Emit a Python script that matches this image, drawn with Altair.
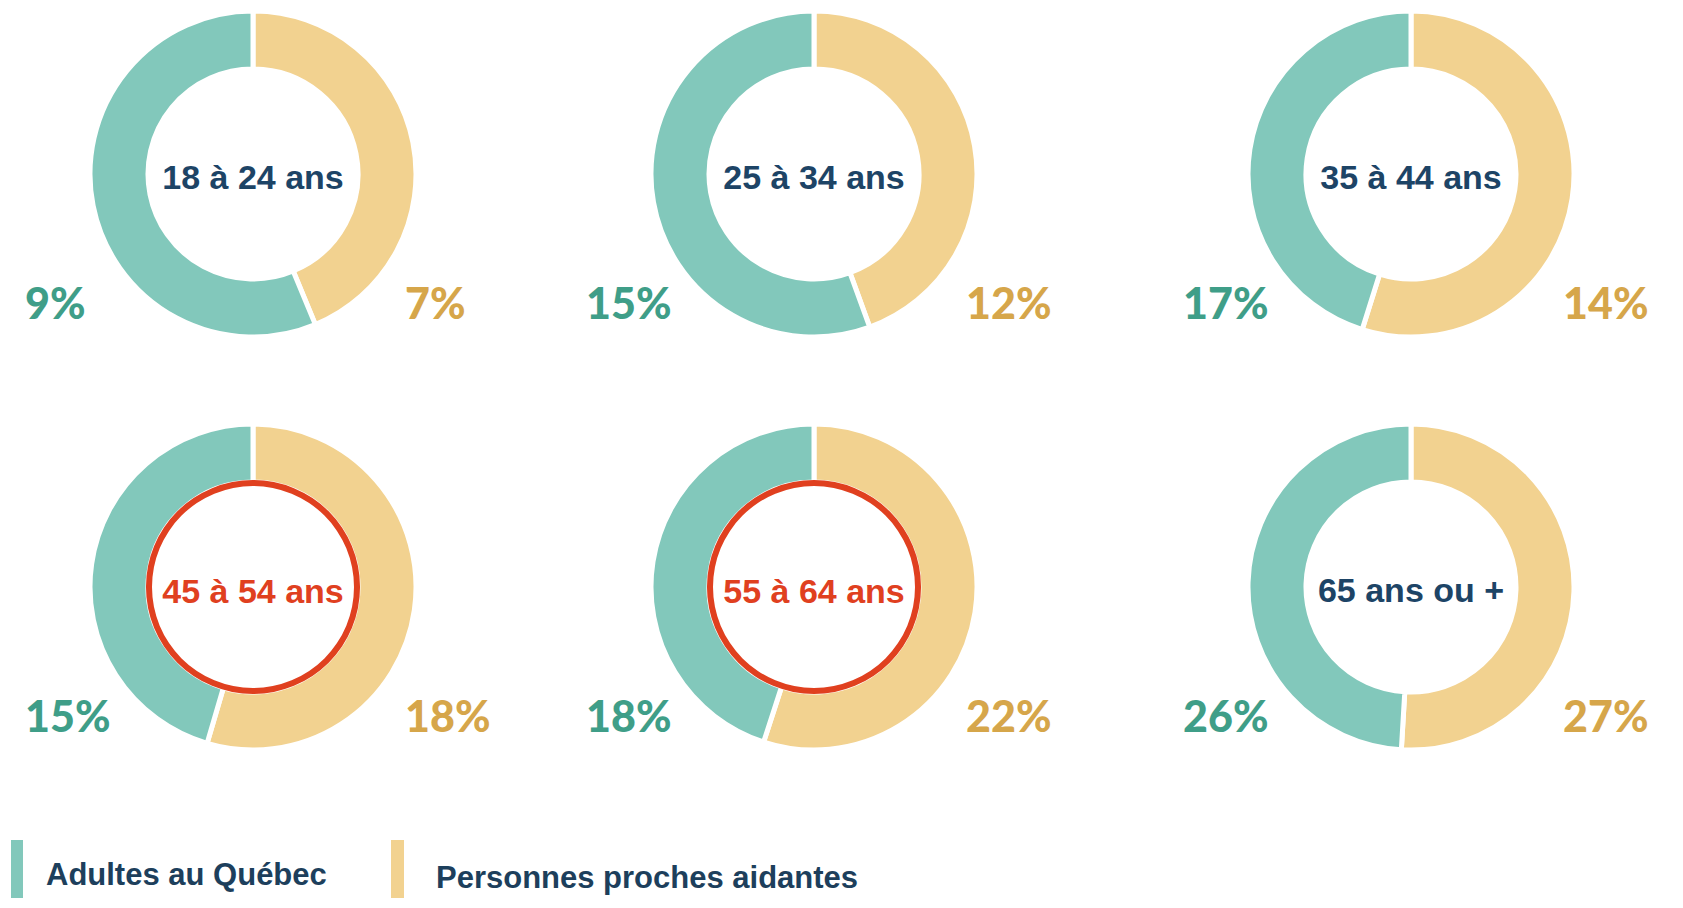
import math
import altair as alt
import pandas as pd

# ---------------- data ----------------
ages = ["18 à 24 ans", "25 à 34 ans", "35 à 44 ans",
        "45 à 54 ans", "55 à 64 ans", "65 ans ou +"]
adultes_pct = [9, 15, 17, 15, 18, 26]
aidants_pct = [7, 12, 14, 18, 22, 27]
# slice sizes as drawn in the picture
adultes_arc = [9, 15, 14, 15, 18, 26]
aidants_arc = [7, 12, 17, 18, 22, 27]
highlight = [False, False, False, True, True, False]
series = ["Adultes au Québec", "Personnes proches aidantes"]

# ---------------- styles ----------------
ring_colors = ["#82c8bb", "#f2d290"]
label_colors = ["#3f9e88", "#d6a64a"]
navy = "#1d4466"
red = "#e0401f"
center_font = "Liberation Sans, Arial, sans-serif"

# ---------------- tables ----------------
arc_rows, lab_rows, ctr_rows = [], [], []
for i, age in enumerate(ages):
    col, row = i % 3, i // 3
    tot = adultes_arc[i] + aidants_arc[i]
    g = aidants_arc[i] / tot
    arc_rows.append(dict(age=age, col=col, row=row, serie=series[1], start=0.0, end=g))
    arc_rows.append(dict(age=age, col=col, row=row, serie=series[0], start=g, end=1.0))
    lab_rows.append(dict(age=age, col=col, row=row, serie=series[0], txt=f"{adultes_pct[i]}%"))
    lab_rows.append(dict(age=age, col=col, row=row, serie=series[1], txt=f"{aidants_pct[i]}%"))
    ctr_rows.append(dict(age=age, col=col, row=row, highlight=highlight[i]))

df_arc = pd.DataFrame(arc_rows)
df_lab = pd.DataFrame(lab_rows)
df_ctr = pd.DataFrame(ctr_rows)
df_leg = pd.DataFrame(dict(serie=series))

xs = alt.Scale(domain=[0, 1, 2], range=[245, 806, 1403])
ys = alt.Scale(domain=[0, 1], range=[166, 579])
X = alt.X("col:Q", scale=xs, axis=None)
Y = alt.Y("row:Q", scale=ys, axis=None)
cscale = alt.Scale(domain=series, range=ring_colors)

arcs = alt.Chart(df_arc).mark_arc(radius=163, radius2=105, stroke="white", strokeWidth=5).encode(
    x=X, y=Y,
    theta=alt.Theta("start:Q", stack=None, scale=alt.Scale(domain=[0, 1], range=[0, 2 * math.pi])),
    theta2="end:Q",
    color=alt.Color("serie:N", scale=cscale, legend=None),
)

ring = alt.Chart(df_ctr).transform_filter("datum.highlight").mark_arc(
    radius=107, radius2=101, theta=0, theta2=2 * math.pi, color=red
).encode(x=X, y=Y)

ctr_normal = alt.Chart(df_ctr).transform_filter("!datum.highlight").mark_text(
    font=center_font, fontSize=34, fontWeight="bold", color=navy,
    align="center", baseline="middle", dy=5
).encode(x=X, y=Y, text="age:N")

ctr_high = alt.Chart(df_ctr).transform_filter("datum.highlight").mark_text(
    font=center_font, fontSize=34, fontWeight="bold", color=red,
    align="center", baseline="middle", dy=6
).encode(x=X, y=Y, text="age:N")

lab_left = alt.Chart(df_lab).transform_filter(alt.datum.serie == series[0]).mark_text(
    font="Lato", fontSize=43, fontWeight=900, color=label_colors[0],
    align="left", baseline="middle", dx=-228, dy=132
).encode(x=X, y=Y, text="txt:N")

lab_right = alt.Chart(df_lab).transform_filter(alt.datum.serie == series[1]).mark_text(
    font="Lato", fontSize=43, fontWeight=900, color=label_colors[1],
    align="left", baseline="middle", dx=152, dy=132
).encode(x=X, y=Y, text="txt:N")

leg_bar0 = alt.Chart(df_leg).transform_filter(alt.datum.serie == series[0]).mark_rect().encode(
    x=alt.value(3), x2=alt.value(15), y=alt.value(832), y2=alt.value(892),
    color=alt.Color("serie:N", scale=cscale, legend=None),
)
leg_bar1 = alt.Chart(df_leg).transform_filter(alt.datum.serie == series[1]).mark_rect().encode(
    x=alt.value(383), x2=alt.value(396), y=alt.value(832), y2=alt.value(892),
    color=alt.Color("serie:N", scale=cscale, legend=None),
)
leg_txt0 = alt.Chart(df_leg).transform_filter(alt.datum.serie == series[0]).mark_text(
    font=center_font, fontSize=31, fontWeight="bold", color="#1d3f5c",
    align="left", baseline="middle"
).encode(x=alt.value(38), y=alt.value(868), text="serie:N")
leg_txt1 = alt.Chart(df_leg).transform_filter(alt.datum.serie == series[1]).mark_text(
    font=center_font, fontSize=31, fontWeight="bold", color="#1d3f5c",
    align="left", baseline="middle"
).encode(x=alt.value(428), y=alt.value(871), text="serie:N")

chart = alt.layer(
    arcs, ring, ctr_normal, ctr_high, lab_left, lab_right,
    leg_bar0, leg_bar1, leg_txt0, leg_txt1
).properties(
    width=1660, height=890, padding=0,
    autosize=alt.AutoSizeParams(type="none"),
    background="white",
).configure_view(stroke=None)

chart.save("out.html", embed_options={"renderer": "svg", "actions": False})
